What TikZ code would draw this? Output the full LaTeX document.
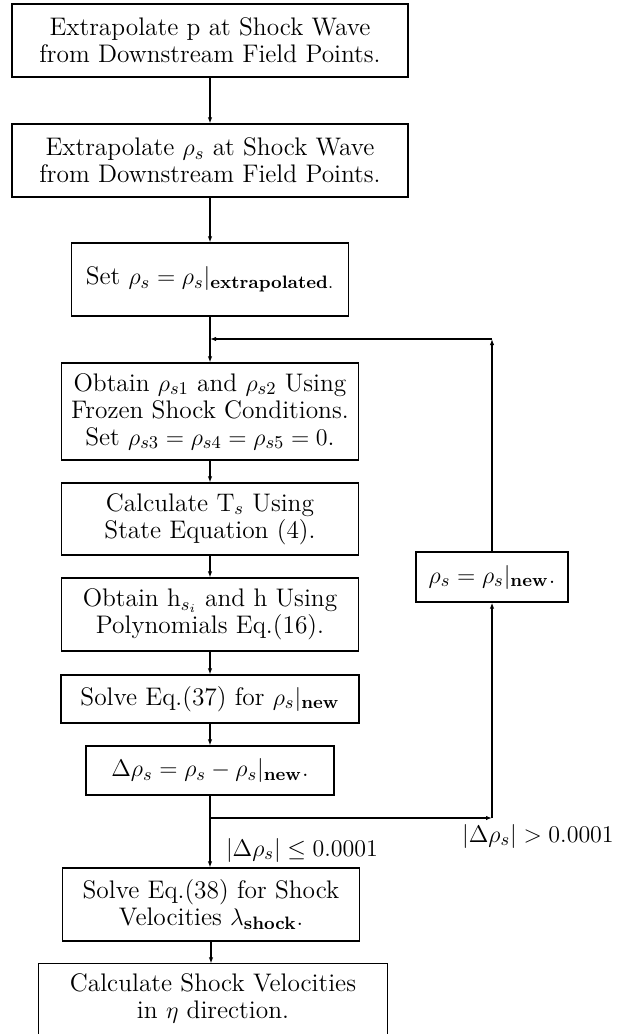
\documentclass[tikz,border=0pt]{standalone}
\usetikzlibrary{arrows.meta}
\begin{document}
\begin{tikzpicture}[x=0.5pt,y=-0.5pt, line width=0.6pt,
  txt/.style={font=\fontsize{12.7}{13.5}\selectfont},
  bx/.style 2 args={draw, rectangle, minimum width=#1*0.5pt, minimum height=#2*0.5pt, inner sep=0pt, align=center, txt},
  arr/.style={-{Latex[length=3pt,width=2.2pt]}},
  lbl/.style={inner sep=0pt, font=\fontsize{12.9}{14}\selectfont}]
\useasboundingbox (0,0) rectangle (623,1034);
\clip (0,0) rectangle (623,1034);
\node[bx={396}{73}] (b1) at (210,40.5) {Extrapolate p at Shock Wave\\from Downstream Field Points.};
\node[bx={396}{73}] (b2) at (210,160.5) {Extrapolate $\rho_s$ at Shock Wave\\from Downstream Field Points.};
\node[bx={277}{73}] (b3) at (210,279.5) {Set $\rho_s=\rho_s|_{\mathbf{extrapolated}.}$};
\node[bx={297}{97}] (b4) at (210,411.5) {Obtain $\rho_{s1}$ and $\rho_{s2}$ Using\\Frozen Shock Conditions.\\Set $\rho_{s3}=\rho_{s4}=\rho_{s5}=0$.};
\node[bx={297}{72}] (b5) at (210,519) {Calculate T$_s$ Using\\State Equation (4).};
\node[bx={297}{73}] (b6) at (210,614.5) {Obtain h$_{s_i}$ and h Using\\Polynomials Eq.(16).};
\node[bx={298}{48}] (b7) at (210,699) {Solve Eq.(37) for $\rho_s|_{\mathbf{new}}$};
\node[bx={248}{49}] (b8) at (210,770.5) {$\Delta\rho_s=\rho_s-\rho_s|_{\mathbf{new}}.$};
\node[bx={297}{73}] (b9) at (211,904.5) {Solve Eq.(38) for Shock\\Velocities $\lambda_{\mathbf{shock}}.$};
\node[bx={348}{68}, draw=none] (b10) at (213,998) {Calculate Shock Velocities\\in $\eta$ direction.};
\draw ([yshift=-8pt]b10.south west) -- (b10.north west) -- (b10.north east) -- ([yshift=-8pt]b10.south east);
\node[bx={152}{50}] (r) at (492,577) {$\rho_s=\rho_s|_{\mathbf{new}}.$};
\coordinate (j1) at (210,339);
\coordinate (c1) at (492,339);
\coordinate (j2) at (210,818);
\coordinate (c2) at (492,818);
\draw[arr] (b1) -- (b2);
\draw[arr] (b2) -- (b3);
\draw[arr] (b3) -- (b4);
\draw[arr] (b4) -- (b5);
\draw[arr] (b5) -- (b6);
\draw[arr] (b6) -- (b7);
\draw[arr] (b7) -- (b8);
\draw[arr] (b8) -- (b8.south |- b9.north);
\draw[arr] (b9.south) -- (b9.south |- b10.north);
\draw[arr] (r.north) -- (c1);
\draw[arr] (c1) -- (j1);
\draw[arr] (j2) -- (c2);
\draw[arr] (c2) -- (r.south);
\node[lbl] (l1) at (302,850) {$|\Delta\rho_s|\le 0.0001$};
\node[lbl] (l2) at (538,836) {$|\Delta\rho_s|> 0.0001$};
\end{tikzpicture}
\end{document}
